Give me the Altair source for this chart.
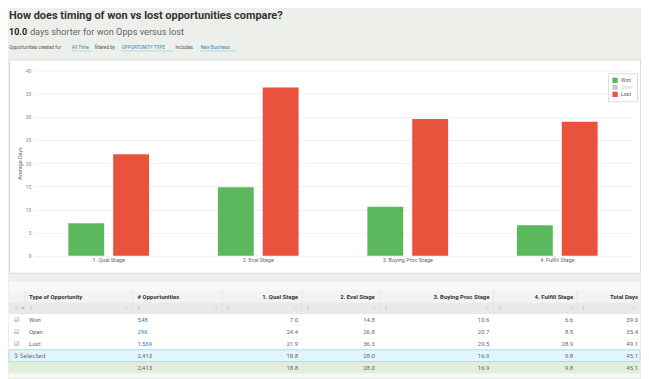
import altair as alt
import pandas as pd

# ---------------- data ----------------
title_text = "How does timing of won vs lost opportunities compare?"
headline_value = "10.0"
headline_text = "days shorter for won Opps versus lost"
filter_segments = ["Opportunities created for", "All Time", "filtered by",
                   "OPPORTUNITY TYPE", "includes", "New Business"]
filter_is_link = [False, True, False, True, False, True]

stages = ["1. Qual Stage", "2. Eval Stage", "3. Buying Proc Stage", "4. Fulfill Stage"]
types = ["Won", "Open", "Lost"]
visible_types = ["Won", "Lost"]
opp_counts = [548, 296, 1569]
qual_days = [7.0, 24.4, 21.9]
eval_days = [14.8, 26.8, 36.3]
buying_days = [10.6, 20.7, 29.5]
fulfill_days = [6.6, 8.5, 28.9]
total_days = [39.0, 35.4, 49.1]
selected_label = "3 Selected"
selected_summary = [2413, 18.8, 28.0, 16.9, 9.8, 45.1]
grand_summary = [2413, 18.8, 28.0, 16.9, 9.8, 45.1]
table_headers = ["", "Type of Opportunity", "# Opportunities"] + stages + ["Total Days"]
y_ticks = [0, 5, 10, 15, 20, 25, 30, 35, 40]

# ---------------- style ----------------
FONT = "Roboto"
W = 633
HEAD_H = 50
BAR_H = 214
TABLE_H = 105
GREEN = "#5cb85c"
RED = "#e9533d"
GREY = "#c9c9c9"
BG = "#edefea"
LINK = "#2b8cbe"

seg_x = [0, 63, 86, 113, 167, 192]
seg_w = [0, 20, 0, 51, 0, 36]

col_keys = ["chk", "type", "opp", "qual", "eval", "buy", "ful", "tot"]
col_x = [5, 20, 129, 290, 367, 482, 566, 631]
col_align = ["left", "left", "left", "right", "right", "right", "right", "right"]
col_bounds = [16, 124, 214, 294, 372, 486, 570, 633]
SORT_ICON = "\u2195"
FILTER_ICON = "\u25BF"

row_keys = ["hdr", "flt"] + types + ["sel", "gt"]
row_fill = ["#f3f3f3", "#e9e9e9", "#ffffff", "#ffffff", "#ffffff", "#e2f5fb", "#e1eedc"]

# ---------------- header ----------------
one = pd.DataFrame({"k": [0]})
hb = alt.Chart(one)
head_layers = [
    hb.mark_text(text=title_text, font=FONT, fontSize=11, fontWeight="bold", color="#333333",
                 align="left", baseline="top").encode(x=alt.value(0), y=alt.value(0.3)),
    hb.mark_text(text=headline_value, font=FONT, fontSize=9, fontWeight="bold", color="#222222",
                 align="left", baseline="alphabetic").encode(x=alt.value(0), y=alt.value(25)),
    hb.mark_text(text=headline_text, font=FONT, fontSize=9.2, color="#666666",
                 align="left", baseline="alphabetic").encode(x=alt.value(21), y=alt.value(25)),
]
for seg, link, sx, sw in zip(filter_segments, filter_is_link, seg_x, seg_w):
    head_layers.append(
        hb.mark_text(text=seg, font=FONT, fontSize=4.7, color=LINK if link else "#555555",
                     align="left", baseline="alphabetic").encode(x=alt.value(sx), y=alt.value(39.5)))
    if link:
        head_layers.append(
            hb.mark_rule(color=LINK, strokeWidth=0.5, strokeDash=[1, 1]).encode(
                x=alt.value(sx), x2=alt.value(sx + sw), y=alt.value(41.5)))
header = alt.layer(*head_layers).properties(width=W, height=HEAD_H)

# ---------------- bar chart ----------------
recs = []
for t in visible_types:
    i = types.index(t)
    vals = [qual_days[i], eval_days[i], buying_days[i], fulfill_days[i]]
    for s, v in zip(stages, vals):
        recs.append({"stage": s, "type": t, "days": v})
bars_df = pd.DataFrame(recs)

bars = alt.Chart(bars_df).mark_bar().encode(
    x=alt.X("stage:N", sort=stages,
            scale=alt.Scale(domain=stages, range=[25, 625], paddingInner=0.46, paddingOuter=0.23),
            axis=alt.Axis(title=None, labelAngle=0, labelFontSize=5.5, labelColor="#666666",
                          labelFont=FONT, labelPadding=2, ticks=False, domain=False, grid=False,
                          offset=-17)),
    xOffset=alt.XOffset("type:N", sort=visible_types,
                        scale=alt.Scale(domain=visible_types, paddingInner=0.2, paddingOuter=0)),
    y=alt.Y("days:Q", scale=alt.Scale(domain=[0, 40], range=[197, 11], nice=False),
            axis=alt.Axis(title="Average Days", values=y_ticks, labelFontSize=5, labelColor="#888888",
                          labelFont=FONT, ticks=False, domain=False, offset=-25, labelPadding=3,
                          grid=True, gridColor="#ececec", gridWidth=0.8,
                          titleFont=FONT, titleFontSize=5.5, titleColor="#666666",
                          titleFontWeight="normal", titleX=-14, titleY=104, titleAngle=270,
                          titleAlign="center", titleBaseline="middle")),
    color=alt.Color("type:N", scale=alt.Scale(domain=types, range=[GREEN, GREY, RED]),
                    legend=alt.Legend(title=None, orient="none", legendX=601, legendY=14,
                                      symbolType="square", symbolSize=28, symbolStrokeWidth=0,
                                      labelFontSize=5, labelFont=FONT,
                                      labelColor={"expr": "datum.label == 'Open' ? '#d0d0d0' : '#555555'"},
                                      padding=4, rowPadding=1, labelOffset=3,
                                      strokeColor="#dddddd", fillColor="white")),
).properties(width=W, height=BAR_H, view=alt.ViewBackground(fill="white", stroke="#dcdcdc"))

# ---------------- table ----------------
def fmt_count(n):
    return f"{n:,}"

cells = []
for c, h in zip(col_keys, table_headers):
    cells.append({"row": "hdr", "col": c, "text": h, "role": "hdr"})
for i, t in enumerate(types):
    vals = ["\u2611", t, fmt_count(opp_counts[i]), f"{qual_days[i]:.1f}", f"{eval_days[i]:.1f}",
            f"{buying_days[i]:.1f}", f"{fulfill_days[i]:.1f}", f"{total_days[i]:.1f}"]
    for c, v in zip(col_keys, vals):
        cells.append({"row": t, "col": c, "text": v, "role": "link" if c == "opp" else "cell"})
sel_vals = [selected_label, "", fmt_count(selected_summary[0])] + [f"{v:.1f}" for v in selected_summary[1:]]
for c, v in zip(col_keys, sel_vals):
    cells.append({"row": "sel", "col": c, "text": v, "role": "cell"})
gt_vals = ["", "", fmt_count(grand_summary[0])] + [f"{v:.1f}" for v in grand_summary[1:]]
for c, v in zip(col_keys, gt_vals):
    cells.append({"row": "gt", "col": c, "text": v, "role": "cell"})
cells.append({"row": "flt", "col": "chk", "text": "\u2713 \u25BE", "role": "faint"})
cells_df = pd.DataFrame(cells)

yrow = alt.Y("row:N", sort=row_keys,
             scale=alt.Scale(domain=row_keys, range=[18, 101], paddingInner=0, paddingOuter=0),
             axis=None)

t_layers = [
    alt.Chart(one).mark_rect(color="#f8f8f7").encode(
        x=alt.value(0), x2=alt.value(W), y=alt.value(9), y2=alt.value(TABLE_H)),
    alt.Chart(pd.DataFrame({"row": row_keys})).mark_rect().encode(
        y=yrow, x=alt.value(0), x2=alt.value(W),
        fill=alt.Fill("row:N", scale=alt.Scale(domain=row_keys, range=row_fill), legend=None)),
    alt.Chart(pd.DataFrame({"row": ["sel"]})).mark_rect(fillOpacity=0, stroke="#9fd6e8", strokeWidth=0.8).encode(
        y=yrow, x=alt.value(0), x2=alt.value(W)),
]
for b in col_bounds[:-1]:
    t_layers.append(alt.Chart(one).mark_rule(color="#dddddd", strokeWidth=0.6).encode(
        x=alt.value(b), y=alt.value(18), y2=alt.value(42)))
flt_df = pd.DataFrame({"row": ["flt"]})
for lb, rb in zip(col_bounds[:-1], col_bounds[1:]):
    t_layers.append(alt.Chart(flt_df).mark_text(
        text=SORT_ICON, font="DejaVu Sans", fontSize=5, color="#c4c4c4", align="left", baseline="middle").encode(
        x=alt.value(lb + 4), y=yrow))
    t_layers.append(alt.Chart(flt_df).mark_text(
        text=FILTER_ICON, font="DejaVu Sans", fontSize=5, color="#c4c4c4", align="right", baseline="middle").encode(
        x=alt.value(rb - 5), y=yrow))

role_color = alt.Color("role:N", scale=alt.Scale(domain=["hdr", "link", "cell", "faint"],
                                                 range=["#333333", "#2b7fb3", "#666666", "#bbbbbb"]),
                       legend=None)
for c, x, a in zip(col_keys, col_x, col_align):
    t_layers.append(alt.Chart(cells_df).transform_filter(
        f"datum.col == '{c}' && datum.role == 'hdr'").mark_text(
        font=FONT, fontSize=6, fontWeight="bold", align=a, baseline="middle").encode(
        x=alt.value(x), y=yrow, text="text:N", color=role_color))
    t_layers.append(alt.Chart(cells_df).transform_filter(
        f"datum.col == '{c}' && datum.role != 'hdr'").mark_text(
        font="DejaVu Sans" if c == "chk" else FONT, fontSize=6, align=a, baseline="middle").encode(
        x=alt.value(x), y=yrow, text="text:N", color=role_color))
table = alt.layer(*t_layers).properties(width=W, height=TABLE_H)

chart = alt.vconcat(header, bars, table, spacing=0, bounds="flush").properties(
    padding=0, background=BG
).resolve_scale(color="independent", fill="independent").configure_view(stroke="transparent")

chart.save("out.html", embed_options={"renderer": "svg", "actions": False})
